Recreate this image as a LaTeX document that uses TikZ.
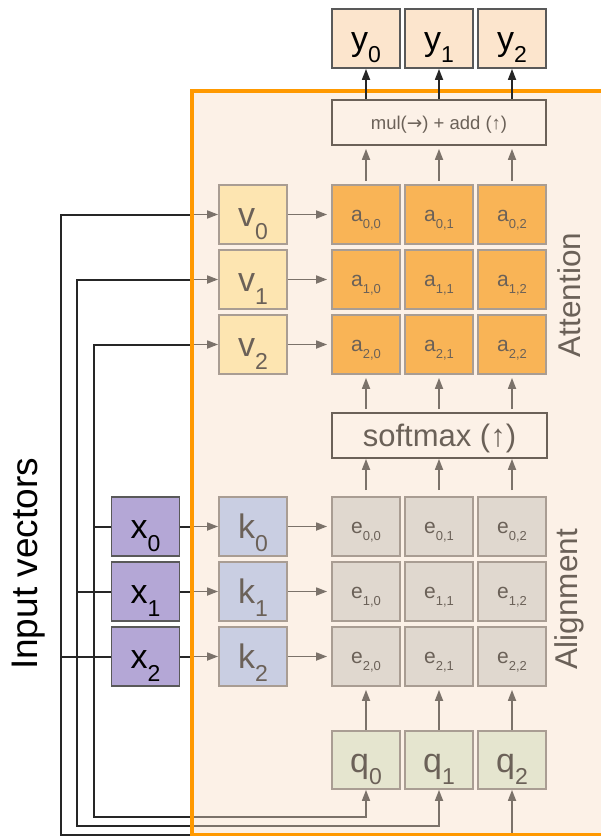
\documentclass[tikz,border=0pt]{standalone}
\usepackage{fontspec}
\setmainfont{Liberation Sans}
\newfontfamily\arrowfont{DejaVu Sans}
\usetikzlibrary{arrows.meta}
\definecolor{orng}{HTML}{FF9900}
\definecolor{bgpeach}{HTML}{FCF1E7}
\definecolor{yfill}{HTML}{FCE5CD}
\definecolor{xfill}{HTML}{B4A7D6}
\definecolor{dkgray}{HTML}{595959}
\definecolor{vfill}{HTML}{FDE5B1}
\definecolor{afill}{HTML}{F9B456}
\definecolor{kfill}{HTML}{C9CEE2}
\definecolor{efill}{HTML}{E0D8CF}
\definecolor{qfill}{HTML}{E5E5CF}
\definecolor{ltgray}{HTML}{A99D93}
\definecolor{txtgray}{HTML}{6B6158}
\definecolor{arrgray}{HTML}{7B726A}
\definecolor{wireblk}{HTML}{262626}
\tikzset{
  box/.style={rectangle,draw,line width=1.8pt,minimum width=68pt,minimum height=59pt,inner sep=0pt,text height=24pt,text depth=0pt},
  ybox/.style={box,fill=yfill,draw=dkgray},
  xbox/.style={box,fill=xfill,draw=dkgray},
  vbox/.style={box,fill=vfill,draw=ltgray,text=txtgray},
  kbox/.style={box,fill=kfill,draw=ltgray,text=txtgray},
  qbox/.style={box,fill=qfill,draw=ltgray,text=txtgray,minimum height=58pt},
  abox/.style={box,fill=afill,draw=ltgray,text=txtgray,text height=13pt},
  ebox/.style={box,fill=efill,draw=ltgray,text=txtgray,text height=13pt},
  op/.style={rectangle,draw=txtgray,line width=1.8pt,minimum width=214pt,minimum height=45pt,inner sep=0pt,text=txtgray},
  wire/.style={line width=2pt,draw=wireblk},
  flow/.style={line width=1.7pt,draw=arrgray,-{Triangle[length=11pt,width=8pt]}},
  up/.style={flow,shorten <=3pt,shorten >=3pt},
  outarrow/.style={line width=1.7pt,draw=wireblk,-{Triangle[length=11pt,width=8pt]}},
  side/.style={rotate=90,text=txtgray,font=\fontsize{31.5}{34}\selectfont},
}
\newcommand{\boxlab}[2]{{\fontsize{34}{34}\selectfont #1}\raisebox{-12.5pt}{\fontsize{23}{23}\selectfont #2}}
\newcommand{\celllab}[2]{{\fontsize{21}{21}\selectfont #1}\raisebox{-7.5pt}{\fontsize{13}{13}\selectfont #2}}

\begin{document}
\begin{tikzpicture}[x=1pt,y=-1pt]
  \useasboundingbox (0,0) rectangle (601,837);
  \fill[bgpeach] (192,91) rectangle (608,834.5);
  \coordinate (brd) at (192,0);
  \coordinate (w0) at (94,0);
  \coordinate (w1) at (77,0);
  \coordinate (w2) at (61,0);
  \coordinate (b0) at (0,817);
  \coordinate (b1) at (0,826);
  \coordinate (b2) at (0,835);
  % outputs
  \node[ybox] (y0) at (366,38.5){\boxlab{y}{0}};
  \node[ybox] (y1) at (439,38.5){\boxlab{y}{1}};
  \node[ybox] (y2) at (512,38.5){\boxlab{y}{2}};
  \node[op,font=\fontsize{18.5}{20}\selectfont,text height=15pt,text depth=0pt] (mul) at (439,122.5){mul({\arrowfont →}) + add (↑)};
  % attention layer
  \node[vbox] (v0) at (253,214.5){\boxlab{v}{0}};
  \node[vbox] (v1) at (253,279.5){\boxlab{v}{1}};
  \node[vbox] (v2) at (253,344.5){\boxlab{v}{2}};
  \node[abox] (a00) at (366,214.5){\celllab{a}{0,0}};
  \node[abox] (a01) at (439,214.5){\celllab{a}{0,1}};
  \node[abox] (a02) at (512,214.5){\celllab{a}{0,2}};
  \node[abox] (a10) at (366,279.5){\celllab{a}{1,0}};
  \node[abox] (a11) at (439,279.5){\celllab{a}{1,1}};
  \node[abox] (a12) at (512,279.5){\celllab{a}{1,2}};
  \node[abox] (a20) at (366,344.5){\celllab{a}{2,0}};
  \node[abox] (a21) at (439,344.5){\celllab{a}{2,1}};
  \node[abox] (a22) at (512,344.5){\celllab{a}{2,2}};
  \node[op,font=\fontsize{31}{33}\selectfont,text height=22pt,text depth=0pt,minimum width=215pt] (soft) at (439.5,435.5){softmax (↑)};
  % alignment layer
  \node[xbox] (x0) at (145.5,526.5){\boxlab{x}{0}};
  \node[xbox] (x1) at (145.5,591.5){\boxlab{x}{1}};
  \node[xbox] (x2) at (145.5,656.5){\boxlab{x}{2}};
  \node[kbox] (k0) at (253,526.5){\boxlab{k}{0}};
  \node[kbox] (k1) at (253,591.5){\boxlab{k}{1}};
  \node[kbox] (k2) at (253,656.5){\boxlab{k}{2}};
  \node[ebox] (e00) at (366,526.5){\celllab{e}{0,0}};
  \node[ebox] (e01) at (439,526.5){\celllab{e}{0,1}};
  \node[ebox] (e02) at (512,526.5){\celllab{e}{0,2}};
  \node[ebox] (e10) at (366,591.5){\celllab{e}{1,0}};
  \node[ebox] (e11) at (439,591.5){\celllab{e}{1,1}};
  \node[ebox] (e12) at (512,591.5){\celllab{e}{1,2}};
  \node[ebox] (e20) at (366,656.5){\celllab{e}{2,0}};
  \node[ebox] (e21) at (439,656.5){\celllab{e}{2,1}};
  \node[ebox] (e22) at (512,656.5){\celllab{e}{2,2}};
  \node[qbox] (q0) at (366,760){\boxlab{q}{0}};
  \node[qbox] (q1) at (439,760){\boxlab{q}{1}};
  \node[qbox] (q2) at (512,760){\boxlab{q}{2}};
  % labels
  \node[rotate=90,font=\fontsize{37}{40}\selectfont] (inp) at (29,564){Input vectors};
  \node[side] (att) at (569,295){Attention};
  \node[side] (ali) at (569,599){Alignment};
  % wires from the inputs
  \draw[wire] (x0.west) -- (x0.west -| w0);
  \draw[wire] (x1.west) -- (x1.west -| w1);
  \draw[wire] (x2.west) -- (x2.west -| w2);
  \draw[wire] (v2.west -| brd) -- (v2.west -| w0) -- (w0 |- b0) -- (brd |- b0);
  \draw[wire] (v1.west -| brd) -- (v1.west -| w1) -- (w1 |- b1) -- (brd |- b1);
  \draw[wire] (v0.west -| brd) -- (v0.west -| w2) -- (w2 |- b2) -- (brd |- b2);
  \draw[wire] (x0.east) -- (x0.east -| brd);
  \draw[wire] (x1.east) -- (x1.east -| brd);
  \draw[wire] (x2.east) -- (x2.east -| brd);
  \draw[flow] (v0.west -| brd) -- (v0.west);
  \draw[flow] (v1.west -| brd) -- (v1.west);
  \draw[flow] (v2.west -| brd) -- (v2.west);
  \draw[flow] (x0.east -| brd) -- (k0.west);
  \draw[flow] (x1.east -| brd) -- (k1.west);
  \draw[flow] (x2.east -| brd) -- (k2.west);
  \draw[flow] (brd |- b0) -- (q0 |- b0) -- (q0.south);
  \draw[flow] (brd |- b1) -- (q1 |- b1) -- (q1.south);
  \draw[flow] (brd |- b2) -- (q2 |- b2) -- (q2.south);
  % inside the block
  \draw[flow,shorten >=4pt] (v0) -- (a00);
  \draw[flow,shorten >=4pt] (v1) -- (a10);
  \draw[flow,shorten >=4pt] (v2) -- (a20);
  \draw[flow,shorten >=4pt] (k0) -- (e00);
  \draw[flow,shorten >=4pt] (k1) -- (e10);
  \draw[flow,shorten >=4pt] (k2) -- (e20);
  \draw[up,shorten <=0pt] (q0.north) -- (e20.south);
  \draw[up,shorten <=0pt] (q1.north) -- (e21.south);
  \draw[up,shorten <=0pt] (q2.north) -- (e22.south);
  \draw[up,shorten <=6pt,shorten >=0pt] (e00.north) -- (soft.south -| e00);
  \draw[up,shorten <=6pt,shorten >=0pt] (e01.north) -- (soft.south -| e01);
  \draw[up,shorten <=6pt,shorten >=0pt] (e02.north) -- (soft.south -| e02);
  \draw[up] (soft.north -| a20) -- (a20.south);
  \draw[up] (soft.north -| a21) -- (a21.south);
  \draw[up] (soft.north -| a22) -- (a22.south);
  \draw[up] (a00.north) -- (mul.south -| a00);
  \draw[up] (a01.north) -- (mul.south -| a01);
  \draw[up] (a02.north) -- (mul.south -| a02);
  \draw[orng,line width=3.5pt] (192,91) rectangle (608,834.5);
  \draw[outarrow] (mul.north -| y0) -- (y0.south);
  \draw[outarrow] (mul.north -| y1) -- (y1.south);
  \draw[outarrow] (mul.north -| y2) -- (y2.south);
\end{tikzpicture}
\end{document}
